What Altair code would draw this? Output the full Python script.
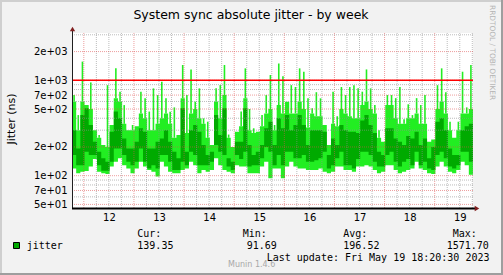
import altair as alt
import pandas as pd

# ---------------- data ----------------
# time axis in hours since 2023-05-11 00:00; window = May 11 18:20 .. May 19 18:20
start_hour = 18.34
end_hour = 210.34
step_hours = 2.0

# per 2-hour bin: peak (narrow spikes), upper / min (bright band), avg_high / avg_low (dark band)
max_vals = [700, 432, 1570, 551, 950, 300, 267, 210, 889, 340, 1334, 760, 550, 300, 340, 330,
            760, 650, 470, 823, 700, 966, 650, 469, 520, 267, 1446, 700, 1300, 597, 823, 399,
            368, 210, 823, 890, 1446, 270, 200, 289, 470, 1334, 500, 314, 289, 432, 700, 1136,
            340, 1500, 1100, 597, 889, 850, 1334, 1230, 650, 509, 750, 647, 340, 210, 760, 420,
            850, 700, 850, 890, 823, 760, 1300, 823, 550, 300, 227, 700, 700, 650, 850, 390,
            560, 432, 650, 551, 700, 227, 240, 889, 1334, 750, 368, 250, 368, 1230, 520, 1446]
upper_vals = [600, 300, 600, 551, 500, 300, 250, 210, 200, 340, 650, 600, 350, 300, 300, 330,
              450, 400, 300, 300, 350, 400, 450, 350, 250, 267, 650, 280, 450, 500, 400, 350,
              250, 210, 600, 400, 700, 250, 200, 289, 330, 650, 300, 280, 289, 330, 450, 500,
              300, 550, 450, 597, 450, 450, 600, 500, 320, 450, 420, 420, 340, 210, 350, 330,
              500, 450, 420, 400, 400, 550, 600, 500, 450, 250, 227, 550, 550, 400, 350, 350,
              400, 400, 450, 350, 350, 227, 240, 500, 600, 450, 300, 250, 300, 450, 450, 500]
avg_high = [300, 193, 432, 509, 340, 227, 178, 152, 140, 289, 470, 400, 246, 193, 193, 227,
            314, 289, 193, 193, 227, 246, 300, 227, 178, 152, 509, 178, 300, 340, 289, 210,
            165, 178, 432, 267, 509, 152, 140, 227, 227, 509, 210, 165, 178, 210, 314, 368,
            210, 399, 314, 432, 300, 340, 432, 340, 210, 300, 300, 300, 289, 165, 246, 210,
            340, 300, 289, 289, 280, 380, 432, 340, 280, 178, 165, 314, 314, 246, 227, 210,
            260, 246, 289, 210, 246, 152, 200, 368, 400, 300, 193, 165, 165, 300, 330, 350]
avg_low = [165, 129, 129, 178, 165, 165, 129, 113, 113, 140, 193, 193, 165, 140, 129, 140,
           193, 140, 119, 129, 119, 165, 165, 140, 115, 115, 140, 129, 178, 165, 129, 129,
           129, 140, 210, 178, 165, 125, 115, 165, 150, 178, 125, 129, 129, 152, 200, 178,
           129, 165, 129, 178, 178, 152, 152, 165, 140, 140, 145, 152, 178, 119, 129, 152,
           178, 129, 129, 119, 150, 178, 178, 165, 140, 125, 125, 165, 178, 140, 125, 140,
           150, 129, 178, 129, 140, 119, 115, 165, 178, 152, 125, 119, 129, 178, 178, 140]
min_vals = [119, 106, 110, 112, 125, 150, 110, 106, 104, 125, 140, 152, 129, 119, 106, 119,
            140, 125, 115, 110, 98, 140, 125, 110, 106, 106, 115, 119, 140, 129, 106, 115,
            110, 115, 152, 129, 115, 110, 106, 129, 125, 125, 106, 106, 106, 125, 140, 94,
            119, 119, 94, 125, 140, 125, 119, 119, 115, 115, 115, 119, 110, 106, 110, 125,
            125, 115, 115, 110, 125, 125, 129, 125, 115, 106, 110, 129, 129, 115, 106, 110,
            115, 119, 140, 119, 115, 106, 104, 125, 140, 125, 110, 106, 115, 140, 129, 102]

warning_level = 1000

day_tick_hours = [36, 60, 84, 108, 132, 156, 180, 204]
day_labels = ["12", "13", "14", "15", "16", "17", "18", "19"]
midnight_hours = [24, 48, 72, 96, 120, 144, 168, 192]
six_hour_hours = [30, 36, 42, 54, 60, 66, 78, 84, 90, 102, 108, 114, 126, 132, 138,
                  150, 156, 162, 174, 180, 186, 198, 204, 210]

y_tick_values = [50, 70, 100, 200, 500, 700, 1000, 2000]
y_tick_labels = ["5e+01", "7e+01", "1e+02", "2e+02", "5e+02", "7e+02", "1e+03", "2e+03"]
y_minor_values = [60, 80, 90, 300, 400, 600, 800, 900, 3000]

legend_name = "jitter"
stat_names = ["Cur:", "Min:", "Avg:", "Max:"]
stat_values = ["139.35", "91.69", "196.52", "1571.70"]
title_text = "System sync absolute jitter - by week"
y_title = "Jitter (ns)"
update_text = "Last update: Fri May 19 18:20:30 2023"
munin_text = "Munin 1.4.6"
rrd_text = "RRDTOOL / TOBI OETIKER"

# ---------------- build ----------------
n = len(max_vals)
hours = [start_hour + step_hours * i for i in range(n)] + [end_hour]


def ext(a):
    return list(a) + [a[-1]]


df = pd.DataFrame({"hour": hours, "vmin": ext(min_vals), "upper": ext(upper_vals),
                   "lo": ext(avg_low), "hi": ext(avg_high)})
spikes = pd.DataFrame({"mid": [start_hour + step_hours * (i + 0.5) for i in range(n)],
                       "upper": upper_vals, "vmax": max_vals})

xs = alt.Scale(domain=[start_hour, end_hour], nice=False, zero=False)
ys = alt.Scale(type="log", domain=[45.85, 3132], nice=False)


def lookup_expr(values, labels):
    s = "''"
    for v, l in reversed(list(zip(values, labels))):
        s = f"abs(datum.value - {v}) < 0.01 ? '{l}' : ({s})"
    return s


x_axis = alt.Axis(values=day_tick_hours, labelExpr=lookup_expr(day_tick_hours, day_labels),
                  domain=False, ticks=False, grid=False, labelPadding=4, title=None,
                  labelFont="DejaVu Sans", labelFontSize=10, labelColor="black",
                  labelOverlap=False, labelFlush=False)
y_axis = alt.Axis(values=y_tick_values, labelExpr=lookup_expr(y_tick_values, y_tick_labels),
                  domain=False, ticks=False, grid=False, labelPadding=5, title=None,
                  labelFont="DejaVu Sans", labelFontSize=10, labelColor="black",
                  labelOverlap=False, labelFlush=False)

XF = lambda f: alt.X(f, scale=xs, axis=x_axis)
YF = lambda f: alt.Y(f, scale=ys, axis=y_axis)

light = alt.Chart(df).mark_area(interpolate="step-after", color="#22EE22", clip=True).encode(
    x=XF("hour:Q"), y=YF("vmin:Q"), y2="upper:Q")
spike = alt.Chart(spikes).mark_rule(color="#22EE22", strokeWidth=1.6, clip=True).encode(
    x=XF("mid:Q"), y=YF("upper:Q"), y2="vmax:Q")
dark = alt.Chart(df).mark_area(interpolate="step-after", color="#00AA00", clip=True).encode(
    x=XF("hour:Q"), y=YF("lo:Q"), y2="hi:Q")

grid_col = "#8F8F8F"
mgrid_col = "#DE4F4F"
vminor = alt.Chart(pd.DataFrame({"h": six_hour_hours})).mark_rule(
    color=grid_col, opacity=0.6, strokeDash=[1, 1], strokeWidth=1).encode(x=XF("h:Q"))
vmajor = alt.Chart(pd.DataFrame({"h": midnight_hours})).mark_rule(
    color=mgrid_col, opacity=0.55, strokeDash=[1, 1], strokeWidth=1).encode(x=XF("h:Q"))
hminor = alt.Chart(pd.DataFrame({"v": y_minor_values})).mark_rule(
    color=grid_col, opacity=0.6, strokeDash=[1, 1], strokeWidth=1).encode(y=YF("v:Q"))
hmajor = alt.Chart(pd.DataFrame({"v": y_tick_values})).mark_rule(
    color=mgrid_col, opacity=0.55, strokeDash=[1, 1], strokeWidth=1).encode(y=YF("v:Q"))
warn = alt.Chart(pd.DataFrame({"v": [warning_level]})).mark_rule(
    color="#FF0000", strokeWidth=1.5).encode(y=YF("v:Q"))

one = pd.DataFrame({"k": [0]})

yline = alt.Chart(one).mark_rule(color="#1F1F1F", strokeWidth=1).encode(
    x=alt.value(0.5), y=alt.value(-3), y2=alt.value(176))
xline = alt.Chart(one).mark_rule(color="#000000", strokeWidth=2).encode(
    x=alt.value(0), x2=alt.value(403), y=alt.value(175.5))
arrow_up = alt.Chart(one).mark_point(shape="triangle-up", filled=True, size=28,
                                     color="#801F1F", opacity=1).encode(
    x=alt.value(0.5), y=alt.value(-4))
arrow_right = alt.Chart(one).mark_point(shape="triangle-right", filled=True, size=28,
                                        color="#801F1F", opacity=1).encode(
    x=alt.value(405), y=alt.value(175.5))


def text(t, x, y, size=10, font="DejaVu Sans Mono", align="left", color="black",
         angle=0, baseline="alphabetic"):
    return alt.Chart(pd.DataFrame({"t": [t]})).mark_text(
        font=font, fontSize=size, align=align, color=color, angle=angle,
        baseline=baseline).encode(text="t:N", x=alt.value(x), y=alt.value(y))


texts = [
    text(title_text, 179, -14.5, size=12.5, font="DejaVu Sans", align="center"),
    text(y_title, -60, 86, size=11, font="DejaVu Sans", align="center", angle=270,
         baseline="middle"),
    text(legend_name, -45.3, 216),
    text(update_text, 194.7, 228),
    text(munin_text, 156, 234, size=8, font="DejaVu Sans", color="#A8A8A8"),
    text(rrd_text, 420, -28, size=7.4, font="DejaVu Sans", color="#B4B4B4", angle=90,
         baseline="middle"),
]
stat_name_x = [65.3, 170.7, 271.3, 380.7]
stat_val_x = [65.3, 174.7, 271.3, 374.7]
for nm, vv, xn, xv in zip(stat_names, stat_values, stat_name_x, stat_val_x):
    texts.append(text(nm, xn, 204))
    texts.append(text(vv, xv, 216))

swatch = alt.Chart(one).mark_rect(color="#00AA00", stroke="black", strokeWidth=1).encode(
    x=alt.value(-58.5), x2=alt.value(-52.5), y=alt.value(209.5), y2=alt.value(215.5))


def frame(x, x2, y, y2, color):
    return alt.Chart(one).mark_rect(color=color).encode(
        x=alt.value(x), x2=alt.value(x2), y=alt.value(y), y2=alt.value(y2))


frames = [
    frame(-72, 431, -33, -31, "#CFCFCF"),
    frame(-72, -70, -33, 242, "#CFCFCF"),
    frame(429, 431, -33, 242, "#9E9E9E"),
    frame(-72, 431, 240, 242, "#9E9E9E"),
]

chart = alt.layer(
    light, spike, dark, vminor, vmajor, hminor, hmajor, warn, yline, xline, arrow_up,
    arrow_right, swatch, *texts, *frames
).properties(
    width=401, height=175, background="#F2F2F2",
    padding={"left": 72, "top": 33, "right": 30, "bottom": 67},
    autosize=alt.AutoSizeParams(type="none"),
).configure_view(fill="white", strokeWidth=0)

chart.save("out.html", embed_options={"renderer": "svg", "actions": False})
